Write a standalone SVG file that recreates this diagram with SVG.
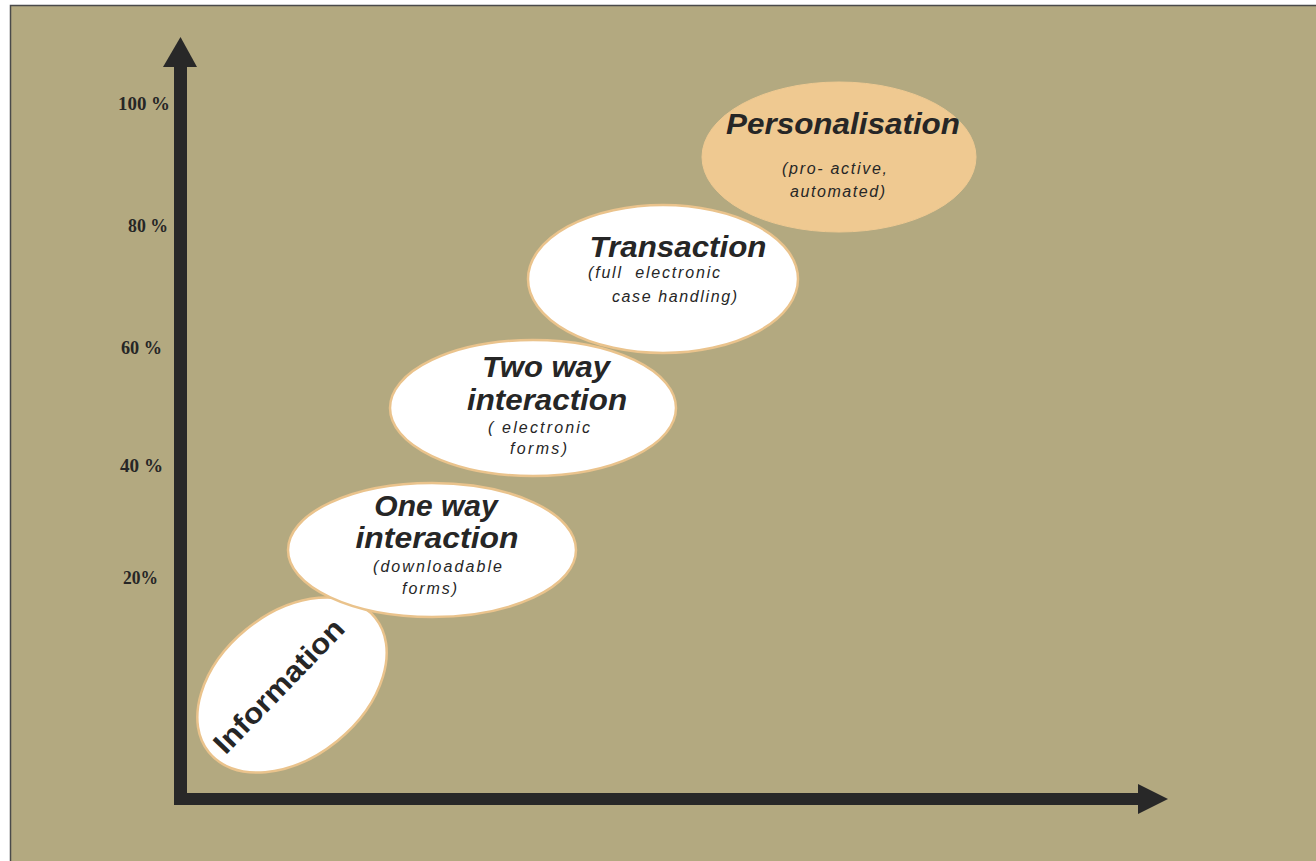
<svg xmlns="http://www.w3.org/2000/svg" width="1316" height="861" viewBox="0 0 1316 861">
<style>
.frame{fill:#b3a980;stroke:#4a4a4a;stroke-width:1.5}
.axis{fill:#282828}
.node{fill:#ffffff;stroke:#eac38c;stroke-width:2.5}
.pers{fill:#efc991;stroke:#efc991;stroke-width:1}
.title{font-family:"Liberation Sans",Arial,sans-serif;font-weight:bold;font-style:italic;font-size:30px;fill:#262626;text-anchor:middle}
.sub{font-family:"Liberation Sans",Arial,sans-serif;font-style:italic;font-size:16px;fill:#262626}
.tick{font-family:"Liberation Serif","Times New Roman",serif;font-weight:bold;font-size:19px;fill:#262626}
</style>
<rect x="0" y="0" width="1316" height="861" fill="#ffffff"/>
<rect class="frame" x="10.5" y="5.5" width="1400" height="900"/>
<g id="connectors">
  <g id="y-axis">
    <rect class="axis" x="174" y="64" width="13" height="737"/>
    <polygon class="axis" points="163,67 180.5,37 197,67"/>
  </g>
  <g id="x-axis">
    <rect class="axis" x="174" y="793" width="966" height="12"/>
    <polygon class="axis" points="1138,784 1168,799 1138,814"/>
  </g>
</g>
<g id="ticks">
  <text class="tick" x="118" y="110" textLength="52" lengthAdjust="spacingAndGlyphs">100 %</text>
  <text class="tick" x="128" y="232" textLength="40" lengthAdjust="spacingAndGlyphs">80 %</text>
  <text class="tick" x="121" y="354" textLength="41" lengthAdjust="spacingAndGlyphs">60 %</text>
  <text class="tick" x="120" y="472" textLength="43" lengthAdjust="spacingAndGlyphs">40 %</text>
  <text class="tick" x="123" y="584" textLength="35" lengthAdjust="spacingAndGlyphs">20%</text>
</g>
<g id="node-information">
  <ellipse class="node" cx="292" cy="685" rx="107" ry="72" transform="rotate(-39 292 685)"/>
  <text x="0" y="0" transform="translate(286 693) rotate(-46)" font-family="'Liberation Sans',Arial,sans-serif" font-weight="bold" font-size="29" fill="#262626" text-anchor="middle" textLength="174" lengthAdjust="spacingAndGlyphs">Information</text>
</g>
<g id="node-one-way">
  <ellipse class="node" cx="432" cy="550" rx="144" ry="67"/>
  <text class="title" x="436" y="516">One way</text>
  <text class="title" x="437" y="548" textLength="163" lengthAdjust="spacingAndGlyphs">interaction</text>
  <text class="sub" x="373" y="572" textLength="129" lengthAdjust="spacing">(downloadable</text>
  <text class="sub" x="402" y="594" textLength="55" lengthAdjust="spacing">forms)</text>
</g>
<g id="node-two-way">
  <ellipse class="node" cx="533" cy="408" rx="143" ry="68"/>
  <text class="title" x="546" y="377" textLength="128" lengthAdjust="spacingAndGlyphs">Two way</text>
  <text class="title" x="547" y="410" textLength="160" lengthAdjust="spacingAndGlyphs">interaction</text>
  <text class="sub" x="488" y="433" textLength="102" lengthAdjust="spacing">( electronic</text>
  <text class="sub" x="510" y="454" textLength="57" lengthAdjust="spacing">forms)</text>
</g>
<g id="node-transaction">
  <ellipse class="node" cx="663" cy="279" rx="135" ry="74"/>
  <text class="title" x="678" y="257" textLength="177" lengthAdjust="spacingAndGlyphs">Transaction</text>
  <text class="sub" x="588" y="278" textLength="132" lengthAdjust="spacing" xml:space="preserve">(full  electronic</text>
  <text class="sub" x="612" y="302" textLength="125" lengthAdjust="spacing">case handling)</text>
</g>
<g id="node-personalisation">
  <ellipse class="pers" cx="839" cy="157" rx="137" ry="75"/>
  <text class="title" x="843" y="134" textLength="234" lengthAdjust="spacingAndGlyphs">Personalisation</text>
  <text class="sub" x="782" y="174" textLength="105" lengthAdjust="spacing">(pro- active,</text>
  <text class="sub" x="790" y="197" textLength="95" lengthAdjust="spacing">automated)</text>
</g>
</svg>
